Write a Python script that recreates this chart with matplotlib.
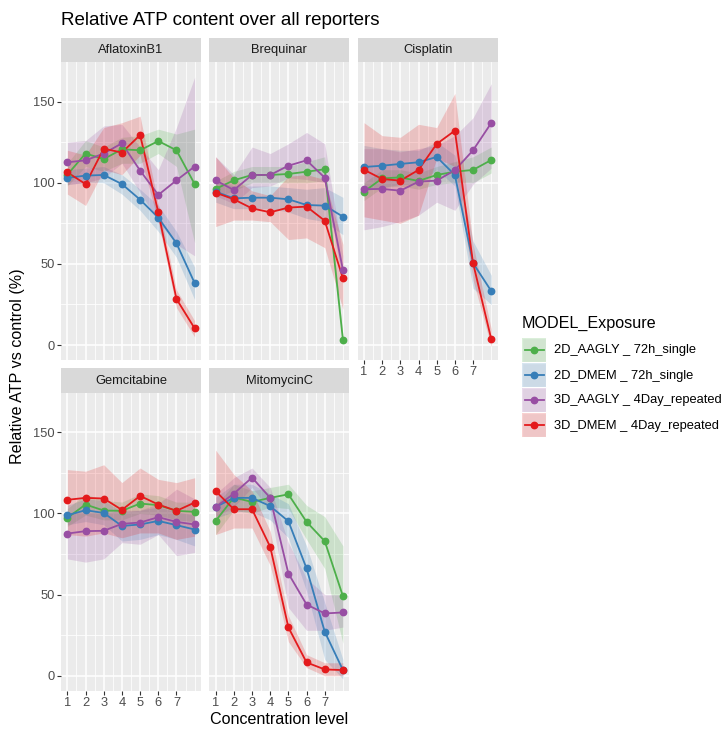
import matplotlib
matplotlib.use("Agg")
import matplotlib.pyplot as plt
from matplotlib.patches import Rectangle

plt.rcParams['font.family'] = ['Liberation Sans', 'DejaVu Sans']

# series order: 2D_AAGLY, 2D_DMEM, 3D_AAGLY, 3D_DMEM
series = ["2D_AAGLY _ 72h_single", "2D_DMEM _ 72h_single",
          "3D_AAGLY _ 4Day_repeated", "3D_DMEM _ 4Day_repeated"]
colors = ["#4DAF4A", "#377EB8", "#984EA3", "#E41A1C"]
levels = [1, 2, 3, 4, 5, 6, 7, 8]
level_ticks = [1, 2, 3, 4, 5, 6, 7]

afla_mean = [[105, 118, 114.6, 120.6, 120, 125.7, 120, 99.2],
             [103, 104.4, 104.8, 99.2, 89.6, 78.5, 62.7, 38.2],
             [112.6, 113.8, 118, 124.3, 107.5, 92.5, 101.5, 110],
             [106.4, 99.2, 121, 118.6, 129.4, 81.8, 28.4, 10.3]]
afla_lo = [[98, 110, 107, 112, 112, 118, 110, 63],
           [99, 100, 100, 93, 83, 70, 54, 28],
           [99, 100, 103, 112, 94, 76, 62, 55],
           [93, 86, 108, 105, 117, 76, 23, 5]]
afla_hi = [[112, 126, 122, 128, 129, 133, 130, 133],
           [108, 109, 110, 105, 96, 86, 70, 48],
           [125, 126, 135, 136, 122, 108, 134, 165],
           [120, 117, 134, 137, 141, 87, 34, 15]]

breq_mean = [[96.2, 101.5, 104.8, 104.8, 105.4, 106.8, 108.3, 3.1],
             [94.5, 90.4, 90.8, 90.8, 89.8, 86.3, 85.9, 79.1],
             [101.5, 95.5, 104.8, 104.8, 110.5, 113.8, 103.1, 46.2],
             [93.9, 89.8, 84.2, 81.8, 84.7, 85.3, 76.6, 41.1]]
breq_lo = [[91, 95, 100, 100, 100, 100, 101, 0],
           [88, 84, 84, 84, 82, 78, 76, 68],
           [92, 87, 97, 98, 103, 102, 100, 38],
           [73, 77, 77, 76, 65, 66, 60, 22]]
breq_hi = [[101, 107, 110, 110, 110, 113, 116, 6],
           [101, 98, 98, 98, 97, 96, 97, 91],
           [116, 105, 122, 118, 124, 131, 124, 55],
           [116, 103, 95, 92, 104, 105, 102, 62]]

cis_mean = [[94.5, 102.7, 103.3, 101.1, 104.8, 106.8, 107.9, 114],
            [109.7, 110.5, 111.6, 112.6, 115.9, 104.8, 50.5, 33.3],
            [96, 96.2, 95.1, 100.7, 101.3, 107.7, 120, 136.8],
            [108, 102.3, 101.3, 107.9, 123.9, 132.1, 50.5, 3.7]]
cis_lo = [[89, 97, 98, 96, 99, 100, 100, 106],
          [95, 97, 99, 99, 108, 98, 35, 25],
          [71, 73, 76, 80, 88, 83, 99, 109],
          [79, 77, 75, 80, 115, 110, 40, -1]]
cis_hi = [[100, 108, 108, 106, 110, 113, 116, 122],
          [123, 121, 120, 120, 125, 117, 64, 43],
          [121, 121, 119, 121, 123, 129, 140, 161],
          [137, 129, 128, 136, 134, 155, 62, 10]]

gem_mean = [[97.3, 105.5, 101.8, 101.6, 106.1, 105.1, 101.6, 101],
            [98.9, 102, 100.3, 92.3, 93.2, 95.4, 92.8, 90.1],
            [87.6, 89.1, 89.3, 93.6, 94.4, 97.7, 94.8, 93.2],
            [108.4, 109.6, 109.2, 102.2, 110.8, 105.5, 101.6, 106.7]]
gem_lo = [[92, 99, 96, 96, 100, 99, 96, 95],
          [93, 95, 93, 83, 84, 87, 84, 80],
          [72, 70, 72, 82, 81, 87, 74, 76],
          [87, 86, 88, 85, 88, 88, 84, 86]]
gem_hi = [[103, 112, 108, 107, 112, 111, 107, 107],
          [105, 109, 108, 101, 102, 104, 101, 99],
          [101, 101, 100, 102, 102, 106, 115, 109],
          [127, 126, 130, 119, 128, 121, 119, 122]]

mito_mean = [[95.4, 109.8, 107.1, 109.6, 111.8, 94.8, 82.9, 49],
             [104, 109.6, 109.6, 104.5, 95.2, 66.1, 27.1, 3.5],
             [104, 112.2, 122.1, 109.6, 63, 43.9, 38.4, 39],
             [113.7, 102.6, 102.6, 79.4, 29.8, 8.2, 3.9, 3.5]]
mito_lo = [[87, 102, 100, 104, 103, 84, 66, 20],
           [97, 101, 101, 96, 85, 52, 10, -2],
           [98, 104, 116, 102, 42, 28, 28, 30],
           [87, 91, 91, 68, 21, 5, 0, 0]]
mito_hi = [[105, 118, 114, 116, 118, 105, 98, 80],
           [110, 118, 118, 112, 106, 80, 45, 10],
           [112, 122, 128, 116, 82, 60, 50, 50],
           [139, 124, 114, 89, 37, 13, 8, 8]]

panels = [("AflatoxinB1", afla_mean, afla_lo, afla_hi),
          ("Brequinar", breq_mean, breq_lo, breq_hi),
          ("Cisplatin", cis_mean, cis_lo, cis_hi),
          ("Gemcitabine", gem_mean, gem_lo, gem_hi),
          ("MitomycinC", mito_mean, mito_lo, mito_hi)]

W, H = 726, 732
fig = plt.figure(figsize=(W / 100, H / 100), dpi=100)


def px_rect(x0, y0, x1, y1):
    return [x0 / W, 1 - y1 / H, (x1 - x0) / W, (y1 - y0) / H]


cols = [(61, 201), (209.3, 349.3), (357.6, 497.6)]
rows = [(62.3, 360), (393, 690.7)]
strip_h = 24.6

for i, (name, mean, lo, hi) in enumerate(panels):
    r, c = divmod(i, 3)
    x0, x1 = cols[c]
    y0, y1 = rows[r]
    ax = fig.add_axes(px_rect(x0, y0, x1, y1))
    ax.set_facecolor("#EBEBEB")
    for sp in ax.spines.values():
        sp.set_visible(False)
    ax.set_xlim(0.65, 8.35)
    ax.set_ylim(-9.2, 174.2)
    ax.set_xticks(level_ticks)
    ax.set_xticks([1.5, 2.5, 3.5, 4.5, 5.5, 6.5, 7.5, 8], minor=True)
    ax.set_yticks([0, 50, 100, 150])
    ax.set_yticks([25, 75, 125], minor=True)
    ax.grid(which="major", color="white", lw=1.1)
    ax.grid(which="minor", color="white", lw=0.55)
    ax.set_axisbelow(True)

    for k in range(4):
        ax.fill_between(levels, lo[k], hi[k], color=colors[k], alpha=0.2, lw=0)
    for k in range(4):
        ax.plot(levels, mean[k], color=colors[k], lw=1.3)
    for k in range(4):
        ax.plot(levels, mean[k], "o", color=colors[k], ms=4.6)

    show_x = (r == 1) or (c == 2)
    show_y = (c == 0)
    ax.tick_params(which="minor", length=0)
    ax.tick_params(which="major", length=2.8, width=0.8, color="#333333",
                   labelsize=9.3, labelcolor="#4D4D4D", pad=1.6,
                   bottom=show_x, labelbottom=show_x,
                   left=show_y, labelleft=show_y)

    sax = fig.add_axes(px_rect(x0, y0 - strip_h, x1, y0))
    sax.set_facecolor("#D9D9D9")
    sax.set_xticks([])
    sax.set_yticks([])
    for sp in sax.spines.values():
        sp.set_visible(False)
    sax.text(0.5, 0.5, name, ha="center", va="center", fontsize=9.3,
             color="#1A1A1A", transform=sax.transAxes)

# overlay for titles and legend, in pixel units
ov = fig.add_axes([0, 0, 1, 1], facecolor="none")
ov.set_xlim(0, W)
ov.set_ylim(H, 0)
ov.axis("off")

ov.text(61, 25, "Relative ATP content over all reporters", fontsize=13.5,
        ha="left", va="baseline", color="black")
ov.text(279, 719, "Concentration level", fontsize=11.6, ha="center",
        va="center", color="black")
ov.text(18, 366, "Relative ATP vs control (%)", fontsize=11.6, ha="center",
        va="center", rotation=90, color="black")

ov.text(522, 323, "MODEL_Exposure", fontsize=11.6, ha="left", va="center",
        color="black")
for k, label in enumerate(series):
    ky = 338 + 25 * k
    ov.add_patch(Rectangle((522, ky), 24, 24, facecolor="#F2F2F2",
                           edgecolor="white", lw=1))
    ov.add_patch(Rectangle((522, ky), 24, 24, facecolor=colors[k], alpha=0.2,
                           lw=0))
    ov.plot([524.5, 543.5], [ky + 12, ky + 12], color=colors[k], lw=1.3)
    ov.plot([534], [ky + 12], "o", color=colors[k], ms=4.6)
    ov.text(554, ky + 12.5, label, fontsize=9.3, ha="left", va="center",
            color="black")

fig.savefig("out.png", dpi=100)
